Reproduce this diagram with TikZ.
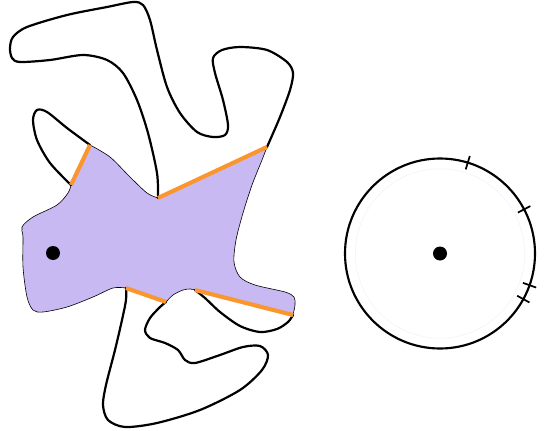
\documentclass[tikz,border=0pt]{standalone}
\usetikzlibrary{calc}
\definecolor{regionpurple}{RGB}{201,185,243}
\definecolor{cutorange}{RGB}{250,150,45}
\definecolor{faintring}{RGB}{243,243,252}
\tikzset{
  curve/.style={line width=1.65pt, line join=round, line cap=round},
  crosscut/.style={line width=3.1pt, cutorange},
  regionfill/.style={fill=regionpurple, draw=black, line width=0.45pt},
  dotnode/.style={circle, fill=black, inner sep=0pt, minimum size=10.5pt},
  tickmark/.style={line width=1.3pt},
}
\begin{document}
\begin{tikzpicture}[x=0.75pt, y=-0.75pt]
\useasboundingbox (0,0) rectangle (545,431);
% crosscut end points
\coordinate (a1) at (71,185);
\coordinate (a2) at (90,145);
\coordinate (b1) at (158,198);
\coordinate (b2) at (267,147);
\coordinate (c1) at (126,288);
\coordinate (c2) at (166,302);
\coordinate (d1) at (195,290);
\coordinate (d2) at (293,315);
% region
\path[regionfill]
  plot[smooth] coordinates {(71,185) (68,193) (57,205) (33,217) (22,227) (23,237) (23,267) (27,297) (33,310) (43,312) (67,307) (93,297) (113,288) (126,288)}
  -- plot[smooth] coordinates {(166,302) (173,295) (183,290) (190,289) (195,290)}
  -- plot[smooth] coordinates {(293,315) (295,305) (294,297) (285,292) (255,285) (240,277) (234,262) (236,240) (243,213) (252,185) (262,160) (267,147)}
  -- plot[smooth] coordinates {(158,198) (147,193) (130,177) (110,157) (90,145)}
  -- cycle;
% Jordan curve pieces outside the region
\draw[curve] plot[smooth] coordinates {(267,147) (280,117) (290,90) (293,73) (287,62) (267,50) (240,47) (222,50) (213,58) (215,73) (223,100) (228,125) (225,135) (213,137) (197,132) (180,113) (167,87) (157,50) (150,20) (143,5) (133,2) (107,7) (67,15) (27,27) (13,37) (10,48) (12,58) (20,62) (50,60) (83,55) (107,60) (123,73) (137,100) (148,133) (157,173) (158,198)};
\draw[curve] plot[smooth] coordinates {(90,145) (67,128) (47,112) (37,110) (33,120) (37,140) (50,163) (71,185)};
\draw[curve] plot[smooth] coordinates {(126,288) (126,300) (122,320) (115,350) (106,385) (103,405) (108,420) (125,427) (157,423) (200,410) (240,390) (262,370) (268,355) (260,346) (243,347) (220,355) (195,363) (185,360) (178,350) (165,343) (150,338) (145,330) (150,318) (160,307) (166,302)};
\draw[curve] plot[smooth] coordinates {(195,290) (205,298) (220,312) (240,326) (260,332) (277,329) (288,322) (293,315)};
% crosscuts
\draw[crosscut] (a1) -- (a2);
\draw[crosscut] (b1) -- (b2);
\draw[crosscut] (c1) -- (c2);
\draw[crosscut] (d1) -- (d2);
\node[dotnode] (z0) at (53,253) {};
% disc
\coordinate (c) at (440,253.5);
\draw[faintring, line width=0.5pt] (c) circle[radius=63.5pt];
\draw[line width=1.6pt] (c) circle[radius=71.25pt];
\foreach \ang in {-73,-27.7,19.5,28.7}{
  \draw[tickmark] ($(c)+(\ang:88)$) -- ($(c)+(\ang:102)$);
}
\node[dotnode] (w0) at (c) {};
\end{tikzpicture}
\end{document}
